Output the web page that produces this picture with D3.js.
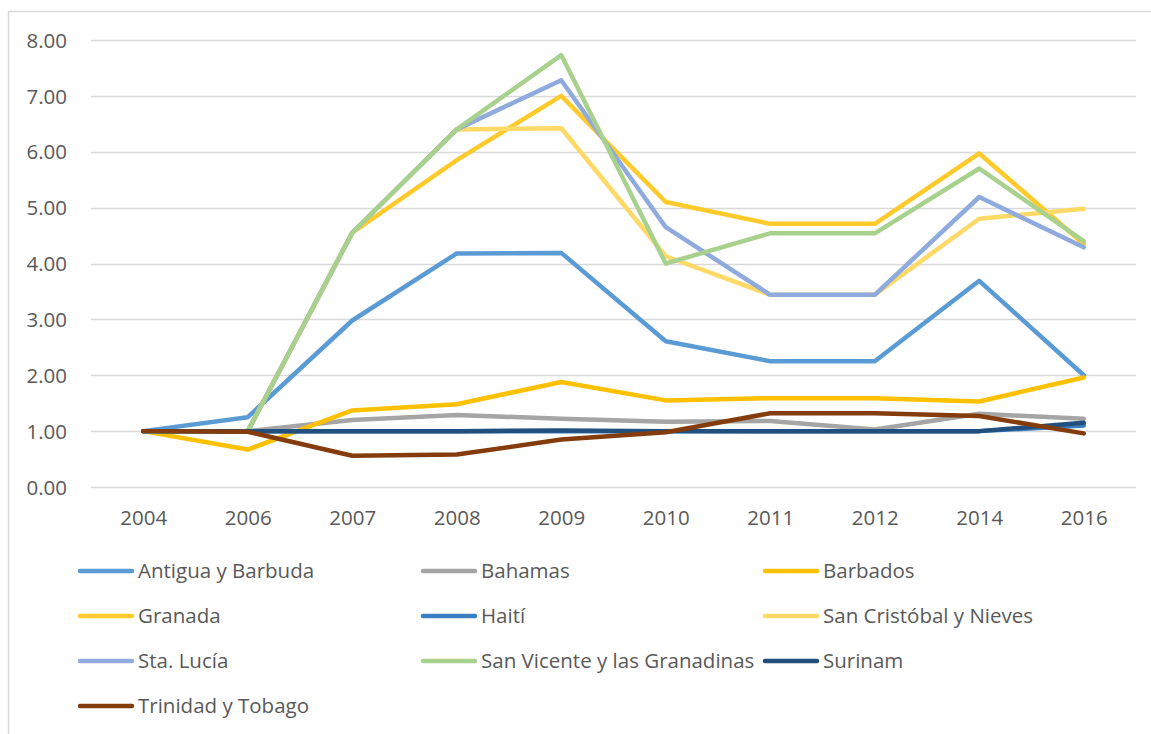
<!DOCTYPE html>
<html>
<head>
<meta charset="utf-8">
<script src="https://cdn.jsdelivr.net/npm/d3@7/dist/d3.min.js"></script>
<style>
  html, body { margin: 0; padding: 0; background: #ffffff; }
  svg { display: block; }
  text { font-family: "Open Sans", "Noto Sans", sans-serif; fill: #595959; }
</style>
</head>
<body>
<svg id="chart" width="1151" height="734"></svg>
<script>
const years = ["2004","2006","2007","2008","2009","2010","2011","2012","2014","2016"];
const yTicks = [0,1,2,3,4,5,6,7,8];

const seriesNames = [
  "Antigua y Barbuda","Bahamas","Barbados",
  "Granada","Haití","San Cristóbal y Nieves",
  "Sta. Lucía","San Vicente y las Granadinas","Surinam",
  "Trinidad y Tobago"
];
const seriesColors = [
  "#5b9bd5","#a5a5a5","#ffc000",
  "#ffca2a","#3b7dc3","#ffd966",
  "#8faadc","#a9d18e","#22507e",
  "#843c0c"
];

const antigua     = [1.00,1.25,2.98,4.18,4.19,2.61,2.25,2.25,3.69,2.00];
const bahamas     = [1.00,1.00,1.20,1.29,1.22,1.17,1.18,1.03,1.31,1.22];
const barbados    = [1.00,0.67,1.37,1.48,1.88,1.55,1.59,1.59,1.53,1.96];
const granada     = [1.00,1.00,4.55,5.85,7.00,5.10,4.71,4.71,5.97,4.35];
const haiti       = [1.00,1.00,1.00,1.00,1.00,1.00,1.00,1.00,1.00,1.10];
const sanCristobal= [1.00,1.00,4.55,6.40,6.42,4.13,3.44,3.44,4.80,4.98];
const staLucia    = [1.00,1.00,4.55,6.40,7.28,4.65,3.44,3.44,5.19,4.29];
const sanVicente  = [1.00,1.00,4.55,6.40,7.73,4.00,4.54,4.54,5.70,4.40];
const surinam     = [1.00,1.00,1.00,1.00,1.01,1.00,1.00,1.00,1.00,1.15];
const trinidad    = [1.00,0.99,0.56,0.58,0.85,0.98,1.32,1.32,1.27,0.96];

const seriesValues = [antigua,bahamas,barbados,granada,haiti,sanCristobal,staLucia,sanVicente,surinam,trinidad];

const svg = d3.select("#chart");

// chart border
svg.append("rect")
  .attr("x", 8.5).attr("y", 11.5)
  .attr("width", 1160).attr("height", 740)
  .attr("fill", "none").attr("stroke", "#d9d9d9").attr("stroke-width", 1.5);

const x = d3.scalePoint().domain(years).range([91, 1136]).padding(0.5);
const y = d3.scaleLinear().domain([0, 8]).range([487, 40]);

// gridlines
svg.append("g")
  .selectAll("line")
  .data(yTicks)
  .join("line")
  .attr("x1", 91).attr("x2", 1136)
  .attr("y1", d => Math.round(y(d)) + 0.5)
  .attr("y2", d => Math.round(y(d)) + 0.5)
  .attr("stroke", "#d9d9d9").attr("stroke-width", 1.3);

// y tick labels
const yAxis = d3.axisLeft(y).tickValues(yTicks).tickFormat(d3.format(".2f")).tickSize(0).tickPadding(0);
const gy = svg.append("g").attr("transform", "translate(67,0)").call(yAxis);
gy.select(".domain").remove();
gy.selectAll("text")
  .attr("font-size", "20.5px")
  .attr("font-family", "'Open Sans', sans-serif")
  .attr("fill", "#595959")
  .attr("dy", "0.35em");

// x tick labels
const xAxis = d3.axisBottom(x).tickSize(0).tickPadding(0);
const gx = svg.append("g").attr("transform", "translate(0,510)").call(xAxis);
gx.select(".domain").remove();
gx.selectAll("text")
  .attr("font-size", "20.5px")
  .attr("font-family", "'Open Sans', sans-serif")
  .attr("fill", "#595959")
  .attr("dy", "0.71em");

// lines
const line = d3.line()
  .x((d, i) => x(years[i]))
  .y(d => y(d));

svg.append("g")
  .selectAll("path")
  .data(seriesValues)
  .join("path")
  .attr("d", d => line(d))
  .attr("fill", "none")
  .attr("stroke", (d, i) => seriesColors[i])
  .attr("stroke-width", 4.5)
  .attr("stroke-linejoin", "round")
  .attr("stroke-linecap", "round");

// legend
const colX = [78, 421, 763];
const rowY = [571, 616, 661, 706];
const legend = svg.append("g")
  .selectAll("g")
  .data(seriesNames)
  .join("g")
  .attr("transform", (d, i) => `translate(${colX[i % 3]},${rowY[Math.floor(i / 3)]})`);

legend.append("line")
  .attr("x1", 2).attr("x2", 54)
  .attr("y1", 0).attr("y2", 0)
  .attr("stroke", (d, i) => seriesColors[i])
  .attr("stroke-width", 4.5)
  .attr("stroke-linecap", "round");

legend.append("text")
  .attr("x", 60)
  .attr("y", 0)
  .attr("dy", "0.35em")
  .attr("font-size", "20.5px")
  .text(d => d);
</script>
</body>
</html>
